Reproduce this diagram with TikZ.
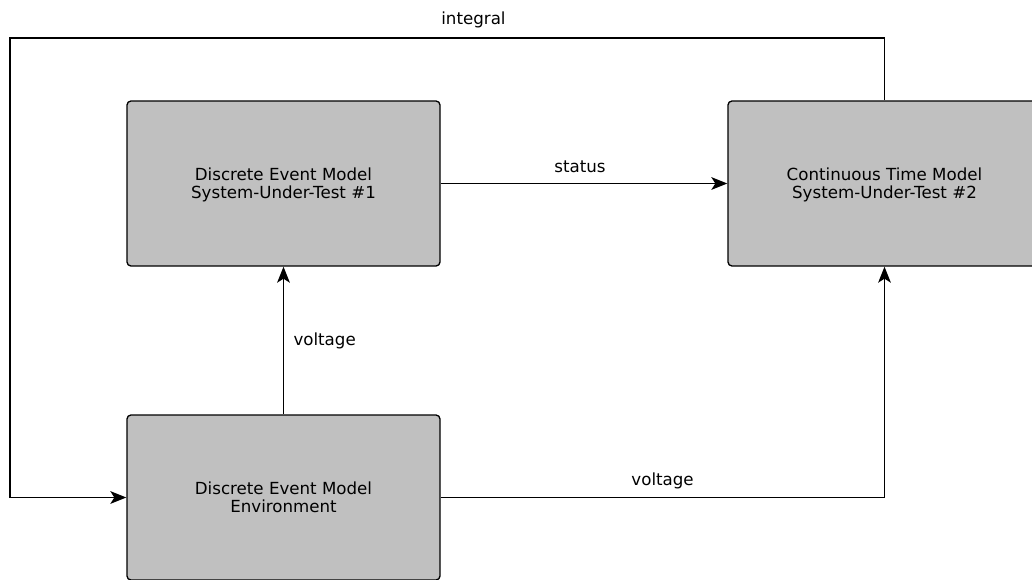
\documentclass[tikz,border=0pt]{standalone}
\usepackage{fontspec}
\setmainfont{DejaVu Sans}
\usetikzlibrary{calc,positioning,arrows.meta}
\tikzset{
modelbox/.style={
  draw=black,
  fill=silvergray,
  line width=1pt,
  rounded corners=3pt,
  minimum width=234.75pt,
  minimum height=123.75pt,
  align=center,
  font=\fontsize{12.5}{13.5}\selectfont
  },
flowlabel/.style={
  font=\fontsize{12.5}{13.5}\selectfont,
  inner sep=0pt
  }
}
\definecolor{silvergray}{HTML}{C0C0C0}

\begin{document}
\begin{tikzpicture}[x=0.75pt,y=-0.75pt,line width=1pt,
  >={Stealth[length=12pt,width=9.5pt,inset=3pt]}]
            \useasboundingbox (0,0) rectangle (1032,579);
            \clip (0,0) rectangle (1032,579);
            % the three models
            \node[modelbox,text depth=-2pt] (des1) at (283.5,183.5) {Discrete Event Model\\System-Under-Test \#1};
            \node[modelbox,text depth=-2pt] (cont2) at (884.5,183.5) {Continuous Time Model\\System-Under-Test \#2};
            \node[modelbox,text depth=-2pt] (env) at (283.5,497.5) {Discrete Event Model\\Environment};
            \coordinate (topleft) at (10,38);
            % signals
            \draw[->] (des1.east) -- (cont2.west)
                node[flowlabel,midway,above=7.5pt,xshift=-3pt] (status) {status};
            \draw[->] (env.north) -- (des1.south)
                node[flowlabel,midway,right=7pt] (volt1) {voltage};
            \draw[->] (env.east) -| (cont2.south)
                node[flowlabel,pos=0.25,above=6pt] (volt2) {voltage};
            \draw[->] (cont2.north) |- (topleft)
                node[flowlabel,pos=0.735,above=7pt] (integ) {integral}
                |- (env.west);
        \end{tikzpicture}
\end{document}
